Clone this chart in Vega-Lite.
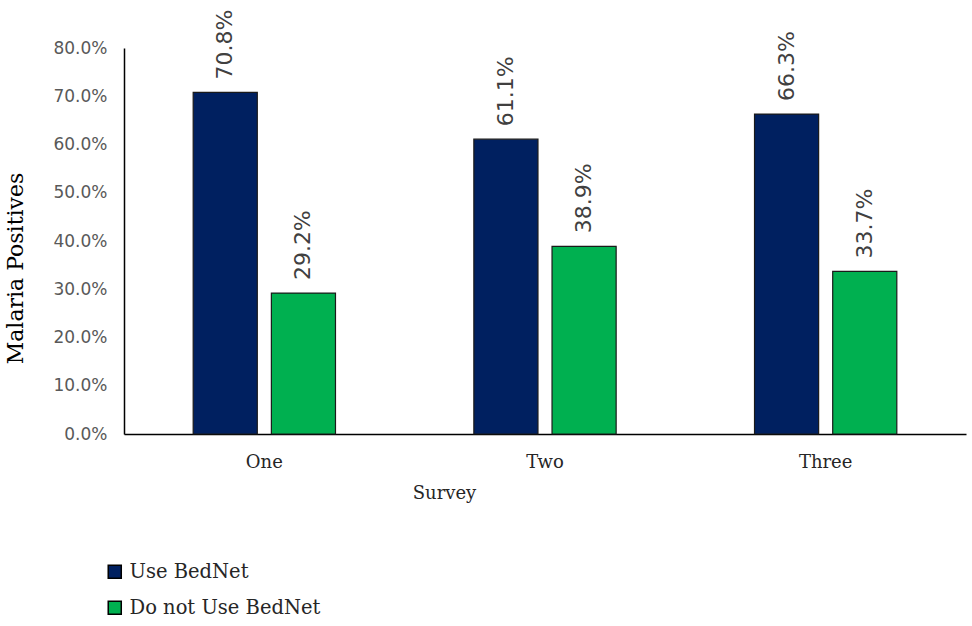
{
  "$schema": "https://vega.github.io/schema/vega-lite/v6.json",
  "width": 842,
  "height": 386,
  "autosize": {"type": "none"},
  "padding": {"left": 124, "top": 48, "right": 6, "bottom": 192},
  "background": "white",
  "config": {"view": {"stroke": null}},
  "data": {
    "values": [
      {"survey": "One", "group": "Use BedNet", "value": 0.708},
      {"survey": "One", "group": "Do not Use BedNet", "value": 0.292},
      {"survey": "Two", "group": "Use BedNet", "value": 0.611},
      {"survey": "Two", "group": "Do not Use BedNet", "value": 0.389},
      {"survey": "Three", "group": "Use BedNet", "value": 0.663},
      {"survey": "Three", "group": "Do not Use BedNet", "value": 0.337}
    ]
  },
  "encoding": {
    "x": {
      "field": "survey",
      "type": "nominal",
      "sort": ["One", "Two", "Three"],
      "scale": {"paddingInner": 0.493, "paddingOuter": 0.2465},
      "axis": {
        "title": "Survey",
        "titleFont": "DejaVu Serif",
        "titleFontSize": 18,
        "titleFontWeight": "normal",
        "titleColor": "#262626",
        "titleX": 320,
        "titleY": 50,
        "labelAngle": 0,
        "labelFont": "DejaVu Serif",
        "labelFontSize": 18,
        "labelColor": "#262626",
        "labelPadding": 19,
        "ticks": false,
        "domainColor": "#000000",
        "domainWidth": 1.5
      }
    },
    "xOffset": {
      "field": "group",
      "type": "nominal",
      "sort": ["Use BedNet", "Do not Use BedNet"],
      "scale": {"paddingInner": 0.18, "paddingOuter": 0}
    },
    "y": {
      "field": "value",
      "type": "quantitative",
      "scale": {"domain": [0, 0.8]},
      "axis": {
        "title": "Malaria Positives",
        "titleFont": "DejaVu Serif",
        "titleFontSize": 22,
        "titleFontWeight": "normal",
        "titleColor": "#000000",
        "titleX": -97,
        "titleY": 220,
        "format": ".1%",
        "values": [0, 0.1, 0.2, 0.3, 0.4, 0.5, 0.6, 0.7, 0.8],
        "labelFont": "DejaVu Sans",
        "labelFontSize": 17,
        "labelColor": "#595959",
        "labelPadding": 17,
        "ticks": false,
        "grid": false,
        "domainColor": "#000000",
        "domainWidth": 1.5
      }
    }
  },
  "layer": [
    {
      "mark": {"type": "bar", "stroke": "#1a1a1a", "strokeWidth": 1.2},
      "encoding": {
        "color": {
          "field": "group",
          "type": "nominal",
          "sort": ["Use BedNet", "Do not Use BedNet"],
          "scale": {"domain": ["Use BedNet", "Do not Use BedNet"], "range": ["#002060", "#00B050"]},
          "legend": {
            "title": null,
            "orient": "none",
            "legendX": -19,
            "legendY": 514,
            "direction": "vertical",
            "symbolType": "square",
            "symbolSize": 170,
            "symbolStrokeColor": "#000000",
            "symbolStrokeWidth": 1.5,
            "labelFont": "DejaVu Serif",
            "labelFontSize": 19.5,
            "labelColor": "#262626",
            "labelLimit": 400,
            "rowPadding": 15,
            "labelOffset": 5
          }
        }
      }
    },
    {
      "mark": {
        "type": "text",
        "angle": 270,
        "align": "left",
        "baseline": "middle",
        "dx": 13,
        "font": "DejaVu Sans",
        "fontSize": 22,
        "color": "#404040"
      },
      "encoding": {
        "text": {"field": "value", "type": "quantitative", "format": ".1%"}
      }
    }
  ]
}
